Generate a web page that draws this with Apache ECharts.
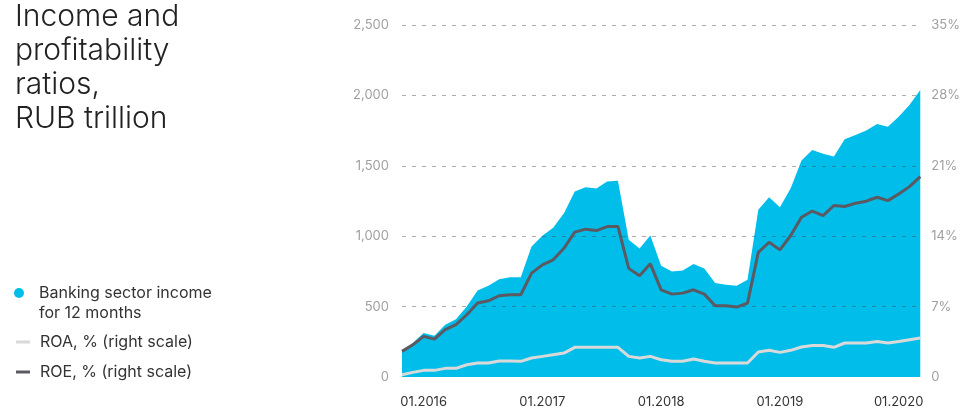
<!DOCTYPE html>
<html>
<head>
<meta charset="utf-8">
<title>Income and profitability ratios</title>
<script src="https://cdn.jsdelivr.net/npm/echarts@6/dist/echarts.min.js"></script>
<style>
  html, body { margin: 0; padding: 0; background: #fff; }
  #chart { width: 963px; height: 411px; }
</style>
</head>
<body>
<div id="chart"></div>
<script>
// monthly points, 49 of them
const periods = [
  'm01', 'm02', 'm03', 'm04', 'm05', 'm06', 'm07', 'm08', 'm09', 'm10',
  'm11', 'm12', 'm13', 'm14', 'm15', 'm16', 'm17', 'm18', 'm19', 'm20',
  'm21', 'm22', 'm23', 'm24', 'm25', 'm26', 'm27', 'm28', 'm29', 'm30',
  'm31', 'm32', 'm33', 'm34', 'm35', 'm36', 'm37', 'm38', 'm39', 'm40',
  'm41', 'm42', 'm43', 'm44', 'm45', 'm46', 'm47', 'm48', 'm49'
];
const tickLabels = ['01.2016', '01.2017', '01.2018', '01.2019', '01.2020'];
const tickIndex = [2, 13, 24, 35, 46];

// banking sector income for 12 months, RUB bn
const income = [
  187, 241, 312, 293, 371, 411, 501, 615, 648, 695,
  709, 709, 927, 1003, 1060, 1163, 1317, 1348, 1339, 1388,
  1393, 974, 913, 1005, 790, 750, 757, 802, 771, 667,
  655, 648, 691, 1187, 1277, 1206, 1341, 1537, 1613, 1585,
  1566, 1689, 1719, 1750, 1797, 1778, 1849, 1932, 2039
];
// ROA, %
const roa = [
  0.23, 0.46, 0.66, 0.66, 0.86, 0.86, 1.22, 1.39, 1.39, 1.59,
  1.59, 1.56, 1.89, 2.05, 2.22, 2.38, 2.95, 2.95, 2.95, 2.95,
  2.95, 2.05, 1.89, 2.05, 1.72, 1.56, 1.56, 1.79, 1.56, 1.39,
  1.39, 1.39, 1.39, 2.48, 2.65, 2.45, 2.65, 2.98, 3.14, 3.14,
  2.95, 3.38, 3.38, 3.38, 3.54, 3.38, 3.54, 3.71, 3.87
];
// ROE, %
const roe = [
  2.55, 3.2, 4.04, 3.77, 4.7, 5.2, 6.19, 7.35, 7.58, 8.08,
  8.18, 8.18, 10.33, 11.15, 11.65, 12.8, 14.4, 14.7, 14.56, 14.96,
  14.96, 10.8, 10.06, 11.25, 8.67, 8.24, 8.34, 8.67, 8.24, 7.08,
  7.08, 6.95, 7.35, 12.4, 13.4, 12.64, 14.07, 15.89, 16.5, 16.05,
  17.05, 16.95, 17.28, 17.48, 17.87, 17.54, 18.2, 18.93, 19.93
];

const FONT = 'Inter, Roboto, sans-serif';
const gridColor = 'rgba(70,70,70,0.45)';
const chart = echarts.init(document.getElementById('chart'), null, { renderer: 'canvas' });

chart.setOption({
  animation: false,
  backgroundColor: '#fff',
  title: {
    text: 'Income and\nprofitability\nratios,\nRUB trillion',
    left: 15,
    top: 0,
    padding: 0,
    textStyle: {
      fontFamily: FONT,
      fontSize: 30,
      fontWeight: 300,
      lineHeight: 34,
      color: '#222'
    }
  },
  legend: [
    {
      data: ['Banking sector income'],
      orient: 'vertical',
      left: 14,
      top: 283,
      padding: 0,
      itemWidth: 14,
      itemHeight: 10,
      icon: 'circle',
      textStyle: { fontFamily: FONT, fontSize: 16, lineHeight: 20, color: '#333', padding: [0, 0, 0, 8] }
    },
    {
      data: ['ROA, % (right scale)', 'ROE, % (right scale)'],
      orient: 'vertical',
      left: 16,
      top: 332,
      padding: 0,
      itemGap: 10,
      itemWidth: 14,
      itemHeight: 3,
      icon: 'rect',
      textStyle: { fontFamily: FONT, fontSize: 16, lineHeight: 20, color: '#333', padding: [0, 0, 0, 5] }
    }
  ],
  graphic: [
    {
      type: 'text',
      left: 39,
      top: 305,
      style: { text: 'for 12 months', font: '16px ' + FONT, fill: '#333' }
    }
  ],
  grid: { left: 402, right: 40, top: 25, bottom: 34 },
  xAxis: {
    type: 'category',
    data: periods,
    boundaryGap: false,
    axisLine: { show: false },
    axisTick: { show: false },
    splitLine: { show: false },
    axisLabel: {
      interval: (idx) => tickIndex.includes(idx),
      formatter: (val, idx) => tickLabels[tickIndex.indexOf(idx)],
      margin: 19,
      fontFamily: FONT,
      fontSize: 13,
      color: '#333'
    }
  },
  yAxis: [
    {
      type: 'value',
      min: 0,
      max: 2500,
      interval: 500,
      axisLine: { show: false },
      axisTick: { show: false },
      axisLabel: {
        margin: 13,
        fontFamily: FONT,
        fontSize: 13,
        color: '#a0a0a0',
        formatter: (v) => v.toLocaleString('en-US')
      },
      splitLine: {
        lineStyle: {
          color: ['rgba(0,0,0,0)', gridColor, gridColor, gridColor, gridColor, gridColor],
          type: [4, 6],
          width: 1
        }
      }
    },
    {
      type: 'value',
      min: 0,
      max: 35,
      interval: 7,
      position: 'right',
      axisLine: { show: false },
      axisTick: { show: false },
      splitLine: { show: false },
      axisLabel: {
        margin: 11,
        fontFamily: FONT,
        fontSize: 13,
        color: '#a0a0a0',
        formatter: (v) => (v === 0 ? '0' : v + '%')
      }
    }
  ],
  series: [
    {
      name: 'Banking sector income',
      type: 'line',
      z: -1,
      data: income,
      symbol: 'none',
      lineStyle: { width: 0 },
      itemStyle: { color: '#00bdea' },
      areaStyle: { color: '#00bdea', opacity: 1 }
    },
    {
      name: 'ROA, % (right scale)',
      type: 'line',
      yAxisIndex: 1,
      data: roa,
      symbol: 'none',
      lineStyle: { width: 3, color: '#d9d9d9' },
      itemStyle: { color: '#d9d9d9' }
    },
    {
      name: 'ROE, % (right scale)',
      type: 'line',
      yAxisIndex: 1,
      data: roe,
      symbol: 'none',
      lineStyle: { width: 3, color: '#5b5a62' },
      itemStyle: { color: '#5b5a62' }
    }
  ]
});

window.addEventListener('resize', () => chart.resize());
</script>
</body>
</html>
